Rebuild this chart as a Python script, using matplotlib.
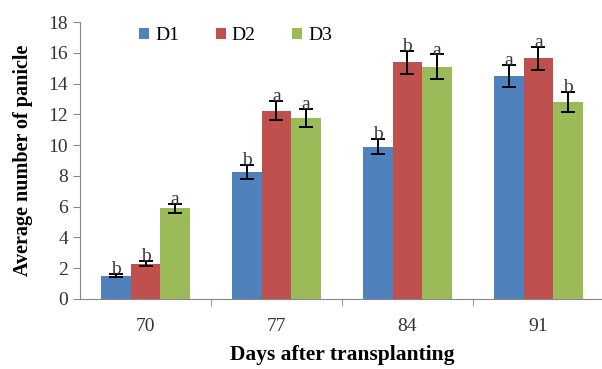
import numpy as np
import matplotlib.pyplot as plt

plt.rcParams['font.family'] = ['Liberation Serif', 'DejaVu Serif']

days = ['70', '77', '84', '91']
series = ['D1', 'D2', 'D3']
colors = ['#4F81BD', '#C0504D', '#9BBB59']

d1 = [1.5, 8.25, 9.9, 14.5]
d2 = [2.3, 12.25, 15.4, 15.65]
d3 = [5.9, 11.75, 15.1, 12.8]

d1_err = [0.1, 0.45, 0.5, 0.7]
d2_err = [0.15, 0.6, 0.75, 0.75]
d3_err = [0.3, 0.6, 0.8, 0.65]

d1_sig = ['b', 'b', 'b', 'a']
d2_sig = ['b', 'a', 'b', 'a']
d3_sig = ['a', 'a', 'a', 'b']

values = [d1, d2, d3]
errors = [d1_err, d2_err, d3_err]
letters = [d1_sig, d2_sig, d3_sig]

fig = plt.figure(figsize=(6.02, 3.69), dpi=100)
ax = fig.add_axes([0.133, 0.19, 0.87, 0.75])

x = np.arange(len(days))
w = 0.225
for i in range(3):
    pos = x + (i - 1) * w
    ax.bar(pos, values[i], w, color=colors[i], label=series[i], edgecolor='none')
    ax.errorbar(pos, values[i], yerr=errors[i], fmt='none', ecolor='black',
                elinewidth=1.4, capsize=5, capthick=1.4)
    for p, v, e, s in zip(pos, values[i], errors[i], letters[i]):
        ax.annotate(s, (p, v + e), xytext=(0, -3), textcoords='offset points',
                    ha='center', va='bottom', fontsize=14, color='#3b3450')

ax.set_xlim(-0.5, len(days) - 0.5)
ax.set_ylim(0, 18)
ax.set_yticks(np.arange(0, 19, 2))
ax.set_xticks(x)
ax.set_xticklabels(days)
ax.set_xticks(np.arange(0.5, len(days) - 0.5, 1), minor=True)
ax.tick_params(axis='x', which='major', length=0, pad=14, labelsize=14, labelcolor='#333333')
ax.tick_params(axis='x', which='minor', length=5, color='#888888')
ax.tick_params(axis='y', length=5, color='#888888', labelsize=14, labelcolor='#333333')

for side in ['top', 'right']:
    ax.spines[side].set_visible(False)
for side in ['left', 'bottom']:
    ax.spines[side].set_color('#888888')

ax.set_ylabel('Average number of panicle', fontsize=14.5, fontweight='bold', labelpad=11)
ax.set_xlabel('Days after transplanting', fontsize=15.5, fontweight='bold', labelpad=7)

ax.legend(loc='upper left', bbox_to_anchor=(0.08, 1.045), ncol=3, frameon=False,
          fontsize=14, handlelength=0.5, handleheight=0.5, handletextpad=0.3,
          columnspacing=1.9)

fig.savefig('out.png', dpi=100)
